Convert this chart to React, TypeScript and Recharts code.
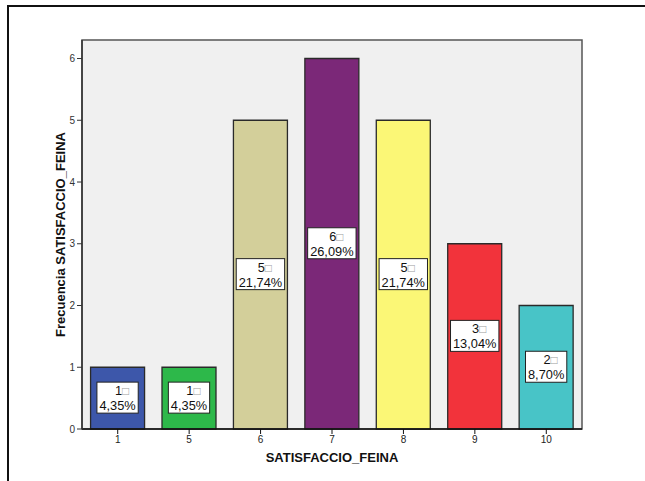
import React from 'react';
import { BarChart, Bar, XAxis, YAxis, ReferenceArea, LabelList, Cell } from 'recharts';

const categories = ['1', '5', '6', '7', '8', '9', '10'];
const counts = [1, 1, 5, 6, 5, 3, 2];
const percents = ['4,35%', '4,35%', '21,74%', '26,09%', '21,74%', '13,04%', '8,70%'];
const colors = ['#3D57AA', '#2DB84A', '#D3CF9A', '#7B2878', '#FBF776', '#F2333B', '#48C4C7'];
const yTicks = [0, 1, 2, 3, 4, 5, 6];

const data = categories.map((c, i) => ({ cat: c, count: counts[i], pct: percents[i] }));

const FONT = 'Arial, "Liberation Sans", Helvetica, sans-serif';

function textWidth(s: string, size: number) {
  let w = 0;
  for (const ch of s) {
    if (ch === ',') w += 0.278;
    else if (ch === '%') w += 0.889;
    else w += 0.556;
  }
  return w * size;
}

const BoxLabel = (props: any) => {
  const { x, y, width, height, index } = props;
  const cx = x + width / 2;
  const cy = y + height / 2;
  const pct = percents[index];
  const cnt = String(counts[index]);
  const fs = 12.8;
  const bw = textWidth(pct, fs) + 5;
  const bh = 31;
  return (
    <g>
      <rect x={cx - bw / 2} y={cy - bh / 2 - 0.5} width={bw} height={bh} fill="#FFFFFF" stroke="#222" strokeWidth={1} />
      <text x={cx + 4.5} y={cy - 3} textAnchor="middle" fontFamily={FONT} fontSize={fs} fill="#111">
        {cnt}
        <tspan fill="#A0A0A0" fontSize={12}>{'\u25A1'}</tspan>
      </text>
      <text x={cx} y={cy + 12} textAnchor="middle" fontFamily={FONT} fontSize={fs} fill="#111">
        {pct}
      </text>
    </g>
  );
};

const YLabel = (props: any) => {
  const vb = props.viewBox || {};
  const x = vb.x + vb.width - 17;
  const y = vb.y + vb.height / 2;
  return (
    <text x={x} y={y} transform={`rotate(-90, ${x}, ${y})`} textAnchor="middle" fontFamily={FONT} fontWeight="bold" fontSize={13} fill="#111">
      Frecuencia SATISFACCIO_FEINA
    </text>
  );
};

const XLabel = (props: any) => {
  const vb = props.viewBox || {};
  const x = vb.x + vb.width / 2;
  const y = vb.y + 33;
  return (
    <text x={x} y={y} textAnchor="middle" fontFamily={FONT} fontWeight="bold" fontSize={13} fill="#111">
      SATISFACCIO_FEINA
    </text>
  );
};

export default function App() {
  return (
    <div style={{ position: 'absolute', left: 0, top: 0, width: 645, height: 481, background: '#fff', overflow: 'hidden' }}>
      <div style={{ position: 'absolute', left: 7, top: 5, width: 700, height: 600, borderLeft: '2px solid #111', borderTop: '2px solid #111' }} />
      <div style={{ position: 'absolute', left: 0, top: 0 }}>
        <BarChart width={645} height={481} data={data} margin={{ top: 40, right: 63, bottom: 22, left: 0 }} barCategoryGap="12%">
          <ReferenceArea y1={0} y2={6.3} fill="#F0F0F0" fillOpacity={1} stroke="#555" strokeWidth={1.5} ifOverflow="visible" />
          <XAxis
            dataKey="cat"
            height={30}
            axisLine={{ stroke: '#111', strokeWidth: 1.5 }}
            tickLine={{ stroke: '#111' }}
            tickSize={5}
            tick={{ fontFamily: FONT, fontSize: 10, fill: '#222' }}
            label={<XLabel />}
          />
          <YAxis
            type="number"
            domain={[0, 6.3]}
            ticks={yTicks}
            width={82}
            axisLine={{ stroke: '#333', strokeWidth: 1.5 }}
            tickLine={{ stroke: '#333' }}
            tickSize={5}
            tickMargin={2}
            tick={{ fontFamily: FONT, fontSize: 10, fill: '#333' }}
            label={<YLabel />}
          />
          <Bar dataKey="count" stroke="#2A2A2A" strokeWidth={1.3} isAnimationActive={false}>
            {data.map((d, i) => (
              <Cell key={d.cat} fill={colors[i]} />
            ))}
            <LabelList dataKey="count" content={<BoxLabel />} />
          </Bar>
        </BarChart>
      </div>
    </div>
  );
}
